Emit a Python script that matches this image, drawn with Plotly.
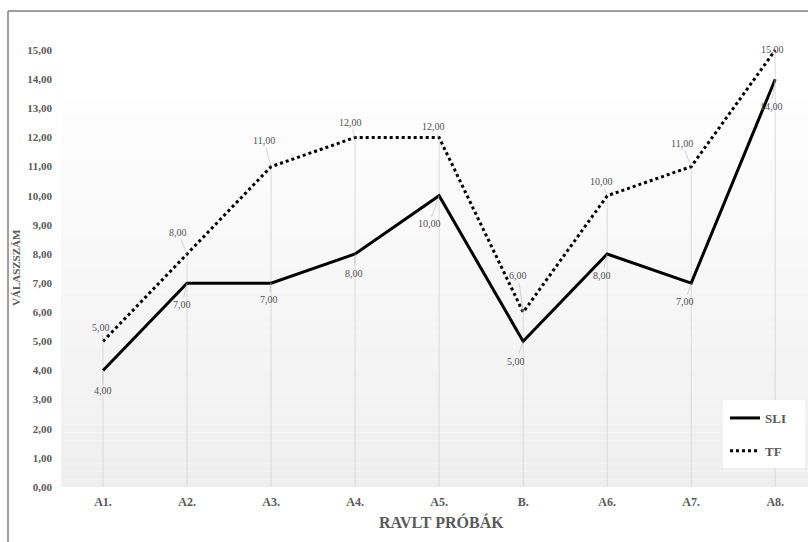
import plotly.graph_objects as go

# RAVLT trial labels and mean response counts for the two groups
trials = ["A1.", "A2.", "A3.", "A4.", "A5.", "B.", "A6.", "A7.", "A8."]
sli = [4, 7, 7, 8, 10, 5, 8, 7, 14]
tf = [5, 8, 11, 12, 12, 6, 10, 11, 15]
y_ticks = list(range(0, 16))

# pixel offsets (dx, dy) of each data label relative to its point
sli_label_offsets = [(0, 20), (-5, 21), (-2, 16), (-1, 19), (-10, 28),
                     (-7, 20), (-5, 21), (-6, 18), (-4, 27)]
tf_label_offsets = [(-2, -14), (-9, -22), (-7, -26), (-5, -15), (-6, -11),
                    (-5, -37), (-6, -14), (-9, -23), (-3, -1)]

FONT = "Liberation Serif"
GREY_TXT = "#595959"

W, H = 808, 542
ML, MR, MT, MB = 61, 0, 21, 55
pw, ph = W - ML - MR, H - MT - MB


def px_x(x):
    return (x - ML) / pw


def px_y(y):
    return (MT + ph - y) / ph


def fmt(v):
    return f"{v:.2f}".replace(".", ",")


fig = go.Figure()

# drop lines from the higher series down to the category axis
drop_x, drop_y = [], []
for t, a, b in zip(trials, sli, tf):
    drop_x += [t, t, None]
    drop_y += [0, max(a, b), None]
fig.add_trace(go.Scatter(x=drop_x, y=drop_y, mode="lines",
                         line=dict(color="#d9d9d9", width=1),
                         showlegend=False, hoverinfo="skip"))

fig.add_trace(go.Scatter(x=trials, y=sli, mode="lines", name="SLI",
                         legendgroup="sli",
                         line=dict(color="black", width=3)))
fig.add_trace(go.Scatter(x=trials, y=tf, mode="lines", name="TF",
                         legendgroup="tf",
                         line=dict(color="black", width=3, dash="dot")))

annotations = []
for series, offsets in ((sli, sli_label_offsets), (tf, tf_label_offsets)):
    for t, v, (dx, dy) in zip(trials, series, offsets):
        annotations.append(dict(
            x=t, y=v, xref="x", yref="y", text=fmt(v),
            showarrow=True, arrowhead=0, arrowwidth=0.7, arrowcolor="#bfbfbf",
            ax=dx, ay=dy, standoff=0,
            font=dict(family=FONT, size=10, color="#505050")))

# axis titles
annotations.append(dict(
    x=px_x(441), y=px_y(522), xref="paper", yref="paper",
    xanchor="center", yanchor="middle",
    text="RAVLT PRÓBÁK", showarrow=False,
    font=dict(family=FONT, size=16, color=GREY_TXT, weight="bold")))
annotations.append(dict(
    x=px_x(16), y=px_y(268), xref="paper", yref="paper",
    xanchor="center", yanchor="middle",
    text="VÁLASZSZÁM", showarrow=False, textangle=-90,
    font=dict(family=FONT, size=11, color=GREY_TXT, weight="bold")))

# vertical gradient behind the plot area (light grey at the bottom to white)
shapes = []
n_bands = 50
top = px_y(98)
c0, c1 = 239, 254
for i in range(n_bands):
    y0 = top * i / n_bands
    y1 = top * (i + 1) / n_bands
    c = round(c0 + (c1 - c0) * (i + 0.5) / n_bands)
    shapes.append(dict(type="rect", xref="paper", yref="paper",
                       x0=0, x1=1, y0=y0, y1=y1, layer="below",
                       line=dict(width=0), fillcolor=f"rgb({c},{c},{c})"))

# white panel behind the legend
shapes.append(dict(type="rect", xref="paper", yref="paper",
                   x0=px_x(723), x1=px_x(805), y0=px_y(468), y1=px_y(400),
                   layer="above", line=dict(width=0), fillcolor="white"))

# outer frame (left and top edges)
fx = px_x(8)
fy = px_y(11)
shapes.append(dict(type="line", xref="paper", yref="paper",
                   x0=fx, x1=fx, y0=fy, y1=-0.2,
                   line=dict(color="#7f7f7f", width=1.5)))
shapes.append(dict(type="line", xref="paper", yref="paper",
                   x0=fx, x1=1.05, y0=fy, y1=fy,
                   line=dict(color="#7f7f7f", width=1.5)))

fig.update_layout(
    width=W, height=H, autosize=False,
    margin=dict(l=ML, r=MR, t=MT, b=MB),
    paper_bgcolor="white", plot_bgcolor="white",
    separators=",.",
    annotations=annotations, shapes=shapes,
    legend=dict(x=px_x(725), y=px_y(403),
                xanchor="left", yanchor="top",
                bgcolor="rgba(0,0,0,0)", borderwidth=0, itemwidth=30,
                tracegroupgap=13,
                font=dict(family=FONT, size=13, color=GREY_TXT, weight="bold")),
    xaxis=dict(type="category", range=[-0.5, 8.39], showgrid=False,
               zeroline=False, showline=False, ticks="",
               ticklabelstandoff=6,
               tickfont=dict(family=FONT, size=12, color=GREY_TXT, weight="bold")),
    yaxis=dict(range=[0, 16], tickvals=y_ticks, tickformat=".2f",
               showgrid=False, zeroline=False, showline=False, ticks="",
               ticklabelstandoff=8,
               tickfont=dict(family=FONT, size=11, color=GREY_TXT, weight="bold")),
)

fig.write_html("out.html")
